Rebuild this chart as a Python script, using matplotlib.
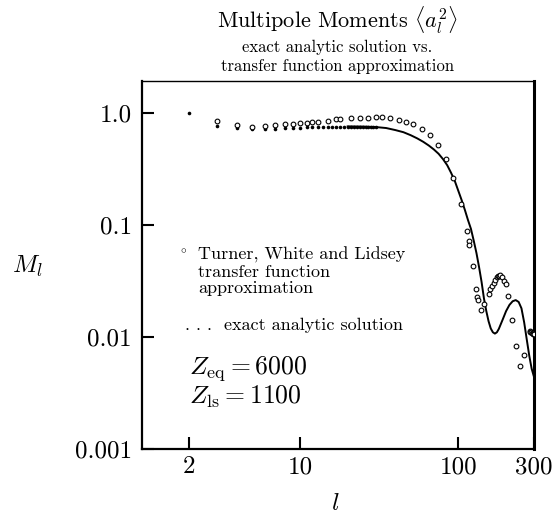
import matplotlib
matplotlib.use("Agg")
import matplotlib.pyplot as plt
from matplotlib.ticker import FixedLocator, FixedFormatter, NullLocator

plt.rcParams['font.family'] = ['cmr10', 'DejaVu Serif']
plt.rcParams['mathtext.fontset'] = 'cm'
plt.rcParams['axes.formatter.use_mathtext'] = True

# exact analytic solution: dots at low l ...
dots_l = [2, 3, 4, 5, 6, 7, 8, 9, 10, 11, 12, 13, 14, 15, 16, 17, 18, 19, 20,
          21, 22, 23, 24, 25, 26, 27, 28, 29, 30]
dots_m = [1.0, 0.765, 0.73, 0.71, 0.712, 0.718, 0.724, 0.73, 0.735, 0.739,
          0.742, 0.745, 0.747, 0.749, 0.75, 0.751, 0.752, 0.752, 0.753,
          0.753, 0.753, 0.753, 0.752, 0.752, 0.751, 0.75, 0.749, 0.747, 0.745]

# ... and a solid curve further on
curve_l = [20, 25, 30, 35, 40, 45, 50, 55, 60, 65, 70, 75, 80, 85, 90, 95, 100,
           105, 110, 115, 120, 125, 130, 135, 140, 145, 150, 155, 160, 165, 170,
           175, 180, 190, 200, 210, 220, 230, 240, 250, 260, 270, 280, 290, 300]
curve_m = [0.755, 0.752, 0.745, 0.73, 0.70, 0.67, 0.63, 0.59, 0.55, 0.51, 0.47,
           0.43, 0.385, 0.34, 0.29, 0.245, 0.20, 0.165, 0.135, 0.11, 0.092,
           0.072, 0.056, 0.042, 0.031, 0.022, 0.017, 0.0138, 0.0119, 0.011,
           0.0107, 0.011, 0.0118, 0.0142, 0.017, 0.0193, 0.0208, 0.0213,
           0.0205, 0.018, 0.0135, 0.0095, 0.0068, 0.0052, 0.0044]

# Turner, White and Lidsey transfer function approximation (open circles)
twl_l = [3, 4, 5, 6, 7, 8, 9, 10, 11, 12, 13, 15, 17, 18, 21, 24, 27, 30, 33,
         37, 42, 47, 52, 59, 66, 74, 83, 93, 104, 113, 116, 117, 123, 129, 131,
         132, 139, 146, 155, 159, 163, 167, 171, 175, 178, 181, 184, 188, 194,
         200, 205, 218, 231, 246, 261, 282, 285, 288, 291, 294, 297, 300]
twl_m = [0.85, 0.77, 0.75, 0.76, 0.776, 0.787, 0.798, 0.804, 0.814, 0.82,
         0.826, 0.849, 0.873, 0.873, 0.89, 0.89, 0.90, 0.91, 0.91, 0.89, 0.86,
         0.825, 0.787, 0.72, 0.63, 0.515, 0.384, 0.26, 0.153, 0.088, 0.071,
         0.066, 0.0428, 0.0265, 0.0228, 0.0213, 0.0173, 0.0196, 0.024, 0.0265,
         0.0285, 0.0303, 0.0325, 0.0343, 0.0348, 0.0352, 0.0356, 0.034,
         0.0316, 0.0294, 0.0232, 0.0141, 0.0083, 0.0055, 0.0069, 0.0112,
         0.0111, 0.011, 0.0109, 0.0108, 0.0107, 0.0106]

xticks = [2, 10, 100, 300]
xtick_labels = ["2", "10", "100", "300"]
yticks = [0.001, 0.01, 0.1, 1.0]
ytick_labels = ["0.001", "0.01", "0.1", "1.0"]

W, H = 554, 514


def px(x, y):
    return x / W, 1 - y / H


fig = plt.figure(figsize=(W / 100, H / 100), dpi=100)
ax = fig.add_axes([141.5 / W, 1 - 449 / H, (534 - 141.5) / W, (449 - 80.7) / H])

ax.plot(curve_l, curve_m, color='black', lw=1.4, zorder=2)
ax.plot(dots_l, dots_m, 'o', color='black', ms=2.6, mew=0, zorder=3)
ax.plot(twl_l, twl_m, 'o', mfc='white', mec='black', ms=3.4, mew=0.8,
        zorder=4)

ax.set_xscale('log')
ax.set_yscale('log')
ax.set_xlim(1.0, 300)
ax.set_ylim(0.001, 1.93)

ax.xaxis.set_major_locator(FixedLocator(xticks))
ax.xaxis.set_major_formatter(FixedFormatter(xtick_labels))
ax.yaxis.set_major_locator(FixedLocator(yticks))
ax.yaxis.set_major_formatter(FixedFormatter(ytick_labels))
ax.xaxis.set_minor_locator(NullLocator())
ax.yaxis.set_minor_locator(NullLocator())
ax.tick_params(direction='in', length=8.5, width=1.5, labelsize=18)
ax.tick_params(axis='x', pad=5)
ax.tick_params(axis='y', pad=7)
for side, sp in ax.spines.items():
    sp.set_linewidth(1.6)
ax.spines['right'].set_linewidth(2.2)
ax.spines['top'].set_linewidth(1.0)

# titles
fig.text(*px(337.5, 28), r"Multipole Moments $\langle a_l^2\rangle$",
         ha='center', va='baseline', fontsize=16)
fig.text(*px(337.5, 52), "exact analytic solution vs.",
         ha='center', va='baseline', fontsize=12)
fig.text(*px(337.5, 71), "transfer function approximation",
         ha='center', va='baseline', fontsize=12)

# axis labels
fig.text(*px(27, 266), r"$M_l$", ha='center', va='center', fontsize=18)
fig.text(*px(335, 493), r"$l$", ha='center', va='top', fontsize=18)

# in-plot legend and parameters
fig.text(*px(183, 253), r"$\circ$", ha='center', va='baseline', fontsize=8)
fig.text(*px(198, 260), "Turner, White and Lidsey", va='baseline', fontsize=13)
fig.text(*px(198, 277), "transfer function", va='baseline', fontsize=13)
fig.text(*px(198, 293.5), "approximation", va='baseline', fontsize=13)
fig.text(*px(185, 330), ". . .  exact analytic solution", va='baseline',
         fontsize=13)
fig.text(*px(189, 374), r"$Z_{\rm eq} = 6000$", va='baseline', fontsize=18.5)
fig.text(*px(189, 404), r"$Z_{\rm ls} = 1100$", va='baseline', fontsize=18.5)

fig.savefig("out.png", dpi=100)
